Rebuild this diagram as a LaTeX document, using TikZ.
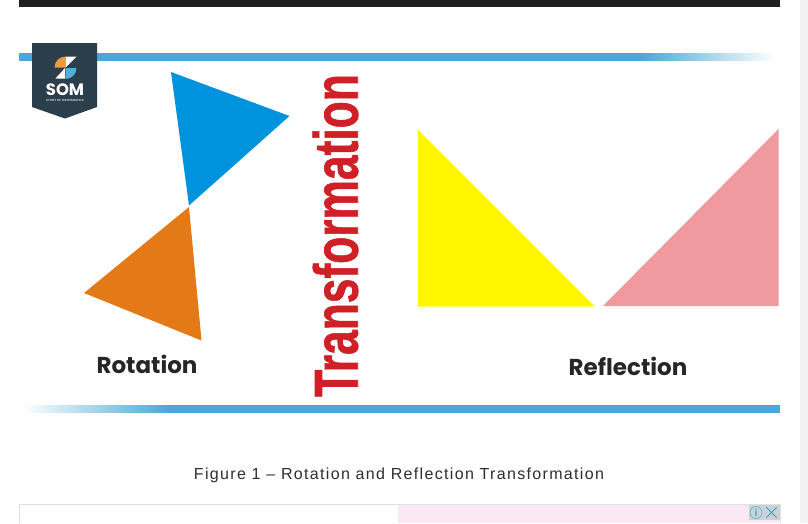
\documentclass[tikz,border=0pt]{standalone}
\usepackage{fontspec}
\usepackage{xcolor}
\setmainfont{Liberation Sans}
\newfontfamily\captionfont[LetterSpace=8.3]{Liberation Sans}
\newfontfamily\labelfont{Poppins}
\newfontfamily\wordfont[BoldFeatures={FakeBold=1.2}]{Liberation Sans}
\usetikzlibrary{positioning}
\definecolor{barblue}{HTML}{49A8D4}
\definecolor{barfade}{HTML}{B9D9E4}
\definecolor{triblue}{HTML}{0093DD}
\definecolor{triorange}{HTML}{E37A17}
\definecolor{triyellow}{HTML}{FFF600}
\definecolor{tripink}{HTML}{F0999F}
\definecolor{wordred}{HTML}{CF2027}
\definecolor{shieldnavy}{HTML}{2B3E4B}
\definecolor{logoorange}{HTML}{EE9A38}
\definecolor{logoblue}{HTML}{55ABDC}
\definecolor{adpink}{HTML}{FBE8F3}
\definecolor{adgrey}{HTML}{CBD3D6}
\definecolor{adteal}{HTML}{2FA7C4}
\tikzset{
  bar/.style={shading=axis, shading angle=90},
  tri/.style={draw=none},
  shapelabel/.style={font=\labelfont\bfseries\fontsize{23}{26}\selectfont, text=black!85, inner sep=0pt},
  logopiece/.style={draw=none}
}

\begin{document}
\begin{tikzpicture}[x=1pt,y=-1pt]
  \useasboundingbox (0,0) rectangle (808,523);
  \fill[white] (0,0) rectangle (808,523);
  % page furniture
  \fill[black!88] (19,0) rectangle (780,7);
  \fill[gray!10] (800,0) rectangle (808,523);
  % bars
  \fill[barblue] (19,53) rectangle (640,60.5);
  \shade[bar, left color=barblue, middle color=barfade, right color=white] (640,53) rectangle (775,60.5);
  \fill[barblue] (170,405) rectangle (780,412.5);
  \shade[bar, left color=white, middle color=barfade, right color=barblue] (22,405) rectangle (170,412.5);
  % triangles
  \fill[tri, triblue] (171,72) -- (289.5,116) -- (189,205.5) -- cycle;
  \fill[tri, triorange] (189,207) -- (84,293) -- (201.5,340.5) -- cycle;
  \fill[tri, triyellow] (418,130) -- (418,306.5) -- (594.5,306.5) -- cycle;
  \fill[tri, tripink] (778.5,129) -- (778.5,306) -- (603,306) -- cycle;
  % labels
  \node[shapelabel] (rotation) at (147,364) {Rotation};
  \node[shapelabel] (reflection) at (628,366) {Reflection};
  \node[font=\wordfont\bfseries\fontsize{62}{62}\selectfont, text=wordred, inner sep=0pt, rotate=90, xscale=.715, transform shape] (word) at (335.5,235.5) {Transformation};
  \node[font=\captionfont\fontsize{16}{18}\selectfont, text=black!82, inner sep=0pt] (caption) at (399,475) {Figure 1 – Rotation and Reflection Transformation};
  % logo
  \fill[shieldnavy] (32,43) -- (97,43) -- (97,107) -- (65,118.5) -- (32,107) -- cycle;
  \fill[logopiece, logoorange] (65.5,67.5) -- (54.5,67.5) arc[start angle=180, end angle=270, radius=11] -- cycle;
  \fill[logopiece, white] (65.5,56.5) -- (76.5,56.5) -- (65.5,67.5) -- cycle;
  \fill[logopiece, white] (55.5,78.5) -- (65,68) -- (65,78.5) -- cycle;
  \fill[logopiece, logoblue] (65.5,68) -- (76.5,68) arc[start angle=0, end angle=90, radius=11] -- cycle;
  \node[font=\labelfont\bfseries\fontsize{16.5}{16.5}\selectfont, text=white, inner sep=0pt] (som) at (65,90) {SOM};
  \node[font=\bfseries\fontsize{3}{3}\selectfont, text=white!85!black, inner sep=0pt] (somsub) at (65,100) {STUDY OF MATHEMATICS};
  % ad strip
  \fill[adpink] (398,505) rectangle (780,523);
  \draw[black!12] (19,523) -- (19,504.5) -- (780,504.5) -- (780,523);
  \fill[adgrey] (749,505) rectangle (780,520);
  \node[circle, draw=adteal, text=adteal, font=\fontsize{10}{10}\selectfont\bfseries, inner sep=0pt, minimum size=12pt] (info) at (756,512.5) {i};
  \node[inner sep=0pt, minimum size=10pt] (closebox) at (771.5,512.5) {};
  \draw[adteal, thick] (closebox.north west) -- (closebox.south east);
  \draw[adteal, thick] (closebox.north east) -- (closebox.south west);
\end{tikzpicture}
\end{document}
